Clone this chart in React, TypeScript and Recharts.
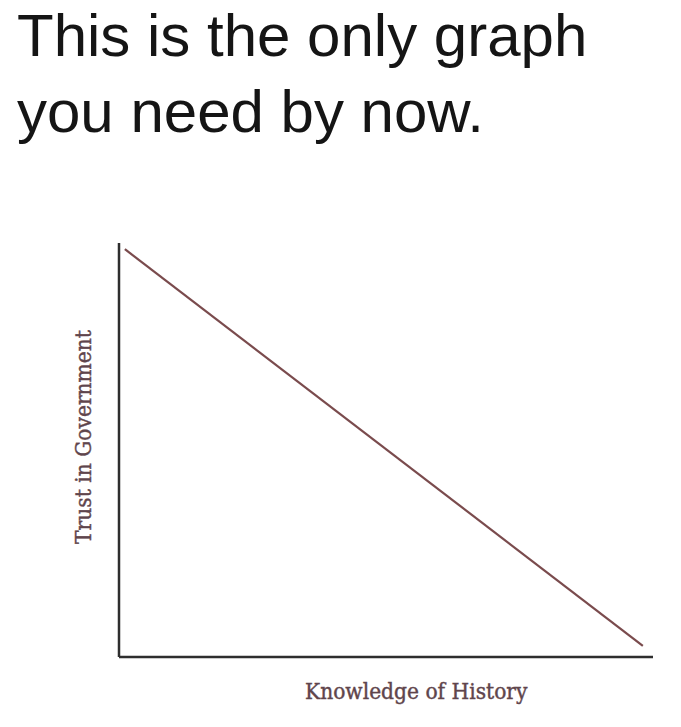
import { LineChart, Line, XAxis, YAxis } from "recharts";

// reading the meme graph: one straight line falling from top-left to bottom-right
const knowledge = [1.1, 98.1];
const trust = [98.5, 2.7];

const TITLE_LINES = ["This is the only graph", "you need by now."];
const X_LABEL = "Knowledge of History";
const Y_LABEL = "Trust in Government";

const data = knowledge.map((k, i) => ({ knowledge: k, trust: trust[i] }));

const labelStyle = {
  position: "absolute" as const,
  fontFamily: "'DejaVu Serif Condensed', 'DejaVu Serif', serif",
  fontWeight: 400,
  fontSize: 22.5,
  color: "#5f454c",
  whiteSpace: "nowrap" as const,
  lineHeight: "26px",
  WebkitTextStroke: "0.4px #5f454c",
};

export default function App() {
  return (
    <div
      style={{
        position: "absolute",
        left: 0,
        top: 0,
        width: 681,
        height: 727,
        background: "#fff",
        overflow: "hidden",
      }}
    >
      {TITLE_LINES.map((t, i) => (
        <div
          key={i}
          style={{
            position: "absolute",
            left: 17,
            top: -2 + i * 76,
            fontFamily: "'Liberation Sans', Arial, sans-serif",
            fontSize: 60,
            lineHeight: "76px",
            color: "#151515",
            whiteSpace: "nowrap",
          }}
        >
          {t}
        </div>
      ))}

      <div style={{ position: "absolute", left: 0, top: 0 }}>
        <LineChart
          width={681}
          height={727}
          data={data}
          margin={{ top: 243, right: 28, bottom: 69, left: 118 }}
        >
          <XAxis
            type="number"
            dataKey="knowledge"
            domain={[0, 100]}
            tick={false}
            tickLine={false}
            height={1}
            axisLine={{ stroke: "#2e2e2e", strokeWidth: 2.5 }}
          />
          <YAxis
            type="number"
            domain={[0, 100]}
            tick={false}
            tickLine={false}
            width={1}
            axisLine={{ stroke: "#2e2e2e", strokeWidth: 2.5 }}
          />
          <Line
            type="linear"
            dataKey="trust"
            stroke="#7a4b4d"
            strokeWidth={2.2}
            dot={false}
            isAnimationActive={false}
          />
        </LineChart>
      </div>

      <div style={{ ...labelStyle, left: 305, top: 678 }}>{X_LABEL}</div>
      <div
        style={{
          ...labelStyle,
          left: 83,
          top: 437,
          transform: "translate(-50%, -50%) rotate(-90deg)",
        }}
      >
        {Y_LABEL}
      </div>
    </div>
  );
}
